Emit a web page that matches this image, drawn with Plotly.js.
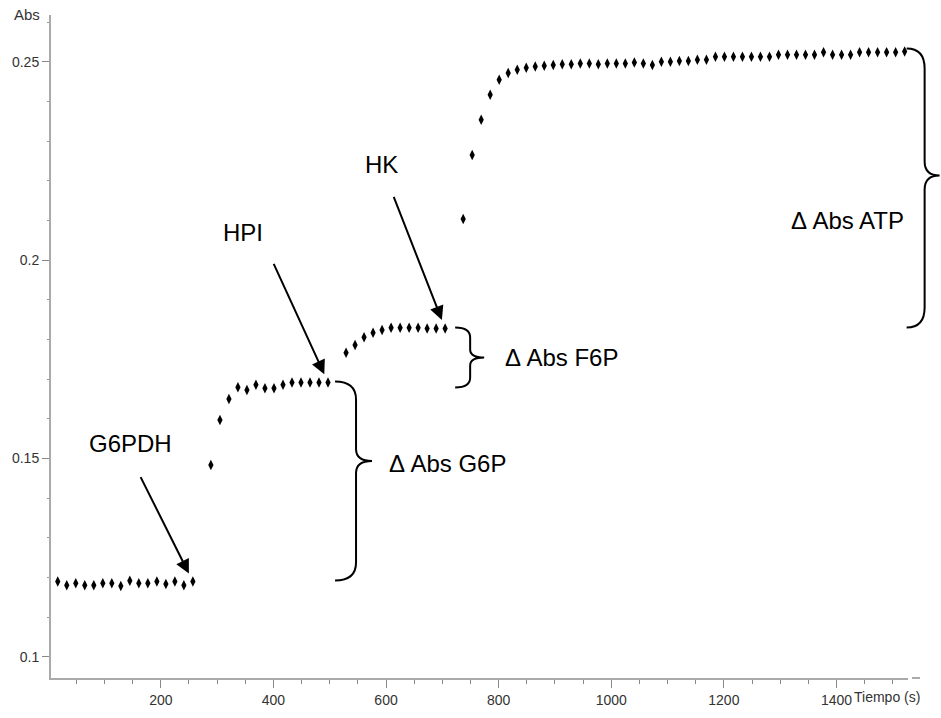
<!DOCTYPE html>
<html><head><meta charset="utf-8">
<script src="https://cdn.plot.ly/plotly-3.0.1.min.js"></script>
<style>html,body{margin:0;padding:0;background:#fff}#chart{width:941px;height:718px}</style>
</head><body><div id="chart"></div>
<script>
// ---- data ----
const tiempo_s = [
  17,33,49,65,81,97,113,129,145,161,177,193,209,225,241,257,
  289,305,321,337,353,369,385,401,417,433,449,465,481,497,
  529,545,561,577,593,609,625,641,657,673,689,705,
  737,753,769,785,801,817,833,849,865,881,897,913,929,945,961,977,993,1009,1025,1041,
  1057,1073,1089,1105,1121,1137,1153,1169,1185,1201,1217,1233,1249,1265,1281,1297,
  1313,1329,1345,1361,1377,1393,1409,1425,1441,1457,1473,1489,1505,1521
];
const absorbancia = [
  0.1190,0.1181,0.1186,0.1181,0.1181,0.1186,0.1186,0.1179,0.1192,0.1186,0.1186,0.1190,0.1184,0.1190,0.1181,0.1190,
  0.1484,0.1597,0.1650,0.1680,0.1673,0.1686,0.1677,0.1677,0.1686,0.1692,0.1692,0.1692,0.1692,0.1692,
  0.1767,0.1786,0.1806,0.1817,0.1824,0.1830,0.1830,0.1830,0.1830,0.1828,0.1828,0.1828,
  0.2104,0.2265,0.2354,0.2417,0.2455,0.2472,0.2480,0.2485,0.2488,0.2490,0.2492,0.2494,0.2494,0.2496,0.2496,0.2494,0.2496,0.2496,0.2496,0.2498,
  0.2496,0.2492,0.2500,0.2500,0.2502,0.2502,0.2505,0.2505,0.2513,0.2513,0.2513,0.2513,0.2513,0.2513,0.2513,0.2518,
  0.2518,0.2518,0.2518,0.2518,0.2524,0.2518,0.2518,0.2518,0.2524,0.2524,0.2524,0.2524,0.2524,0.2526
];
// indices of the last reading before each enzyme addition
const idxG6PDH = 15, idxHPI = 29, idxHK = 41, idxEnd = tiempo_s.length - 1;
const enzimas = ['G6PDH', 'HPI', 'HK'];
const deltas = ['Δ Abs G6P', 'Δ Abs F6P', 'Δ Abs ATP'];
const yTitle = 'Abs', xTitle = 'Tiempo (s)';

// ---- layout geometry ----
const W = 941, H = 718;
const M = {l: 51, r: 33, t: 15, b: 40};
const PW = W - M.l - M.r, PH = H - M.t - M.b;
const xR = [5, 1527], yR = [0.0947, 0.2618];
const px = t => M.l + (t - xR[0]) / (xR[1] - xR[0]) * PW;
const py = v => M.t + (yR[1] - v) / (yR[1] - yR[0]) * PH;
const pX = p => (p - M.l) / PW;
const pY = p => 1 - (p - M.t) / PH;

function brace(L, V, T, Yt, Yb, frac, r, r2) {
  const Ym = Yt + (Yb - Yt) * frac;
  const P = (x, y) => pX(x).toFixed(5) + ',' + pY(y).toFixed(5);
  const path = 'M' + P(L, Yt) + ' Q' + P(V, Yt) + ' ' + P(V, Yt + r) +
    ' L' + P(V, Ym - r2) + ' Q' + P(V, Ym) + ' ' + P(T, Ym) +
    ' Q' + P(V, Ym) + ' ' + P(V, Ym + r2) +
    ' L' + P(V, Yb - r) + ' Q' + P(V, Yb) + ' ' + P(L, Yb);
  return {type: 'path', xref: 'paper', yref: 'paper', path: path,
          line: {color: '#000', width: 2}};
}

const xG = px(tiempo_s[idxHPI]), yG6Ptop = py(absorbancia[idxHPI]), yBase = py(absorbancia[idxG6PDH]);
const xF = px(tiempo_s[idxHK]), yF6Ptop = py(absorbancia[idxHK]);
const xA = px(tiempo_s[idxEnd]), yATPtop = py(absorbancia[idxEnd]);

const shapes = [
  brace(xG + 7, xG + 28, xG + 44, yG6Ptop - 1, yBase - 1, 0.40, 18, 12),
  brace(xF + 10, xF + 25, xF + 39, yF6Ptop - 1, yG6Ptop + 5, 0.50, 10, 8),
  brace(xA + 2, xA + 20, xA + 35, yATPtop - 3, yF6Ptop - 1, 0.455, 20, 14),
  {type: 'line', xref: 'paper', yref: 'paper', x0: pX(912), x1: pX(920), y0: 0, y1: 0,
   line: {color: '#aaa', width: 2}}
];

const txtFont = {family: 'Liberation Sans, Arial, sans-serif', size: 24, color: '#000'};
const tickFont = {family: 'Liberation Sans Narrow, Arial Narrow, Liberation Sans, sans-serif', size: 14, color: '#333'};

function arrow(i, ax, ay) {
  return {x: tiempo_s[i], y: absorbancia[i], xref: 'x', yref: 'y', text: '',
          showarrow: true, arrowhead: 2, arrowsize: 1.4, arrowwidth: 2, arrowcolor: '#000',
          standoff: 9, ax: ax, ay: ay};
}
function label(text, x, y, xanchor) {
  return {text: text, xref: 'paper', yref: 'paper', x: pX(x), y: pY(y),
          xanchor: xanchor || 'center', yanchor: 'middle', showarrow: false, font: txtFont};
}

const annotations = [
  arrow(idxG6PDH, -53, -106),
  arrow(idxHPI, -55, -120),
  arrow(idxHK, -52, -133),
  label(enzimas[0], 130, 443),
  label(enzimas[1], 243, 233),
  label(enzimas[2], 381, 165),
  label(deltas[0], 387, 463, 'left'),
  label(deltas[1], 503, 357, 'left'),
  label(deltas[2], 789, 220, 'left'),
  {text: yTitle, xref: 'paper', yref: 'paper', x: pX(42), y: pY(14), xanchor: 'right', yanchor: 'middle',
   showarrow: false, font: {family: tickFont.family, size: 15, color: '#333'}},
  {text: xTitle, xref: 'paper', yref: 'paper', x: pX(852), y: pY(697), xanchor: 'left', yanchor: 'middle',
   showarrow: false, font: {family: tickFont.family, size: 14, color: '#333'}}
];

const trace = {
  x: tiempo_s, y: absorbancia, type: 'scatter', mode: 'markers',
  marker: {symbol: 'diamond-tall', size: 7.5, color: '#000'},
  hoverinfo: 'x+y'
};

const layout = {
  width: W, height: H, margin: M, paper_bgcolor: '#fff', plot_bgcolor: '#fff',
  showlegend: false,
  xaxis: {range: xR, tick0: 0, dtick: 200, ticks: 'outside', ticklen: 8, tickwidth: 1, tickcolor: '#888',
          showline: true, linecolor: '#aaa', linewidth: 2, showgrid: false, zeroline: false,
          tickfont: tickFont,
          minor: {dtick: 50, tick0: 0, ticks: 'outside', ticklen: 4, tickcolor: '#888', showgrid: false}},
  yaxis: {range: yR, tick0: 0, dtick: 0.05, ticks: 'outside', ticklen: 7, tickwidth: 1, tickcolor: '#888',
          showline: true, linecolor: '#aaa', linewidth: 2, showgrid: false, zeroline: false,
          tickfont: tickFont,
          minor: {dtick: 0.01, tick0: 0, ticks: 'outside', ticklen: 2, tickcolor: '#999', showgrid: false}},
  shapes: shapes,
  annotations: annotations
};

Plotly.newPlot('chart', [trace], layout, {displayModeBar: false, staticPlot: true});
</script>
</body></html>
